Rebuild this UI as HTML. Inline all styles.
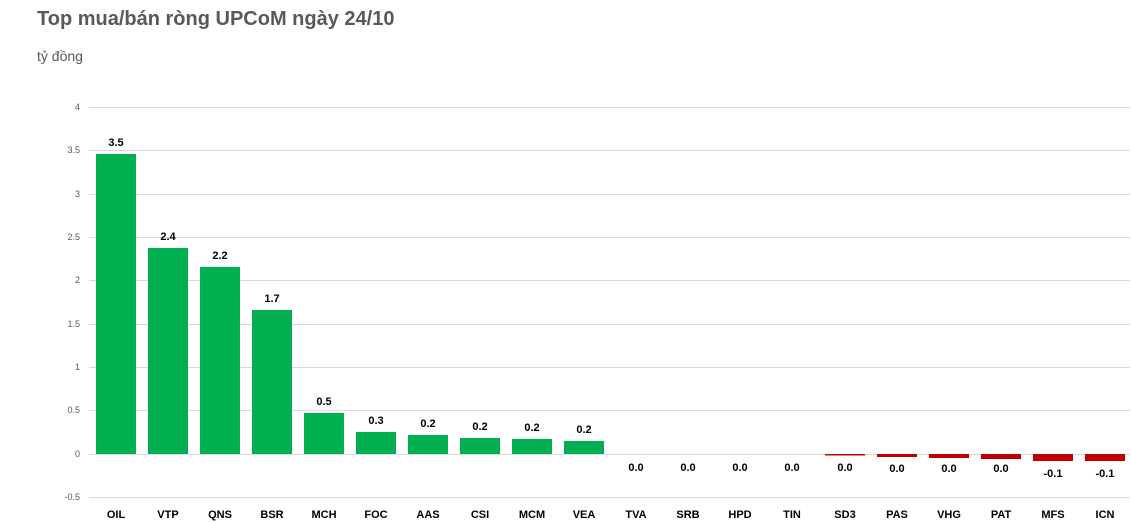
<!DOCTYPE html>
<html><head><meta charset="utf-8"><style>
body{margin:0;background:#fff;}
svg{display:block;font-family:"Liberation Sans",sans-serif;}
</style></head><body>
<svg width="1131" height="523" viewBox="0 0 1131 523">
<text x="37" y="25" font-size="20" font-weight="bold" fill="#595959">Top mua/bán ròng UPCoM ngày 24/10</text>
<text x="37" y="61" font-size="14" fill="#595959">tỷ đồng</text>
<g stroke="#d9d9d9" stroke-width="1">
<line x1="89" x2="1130" y1="107.5" y2="107.5"/><line x1="89" x2="1130" y1="150.5" y2="150.5"/>
<line x1="89" x2="1130" y1="194.5" y2="194.5"/><line x1="89" x2="1130" y1="237.5" y2="237.5"/>
<line x1="89" x2="1130" y1="280.5" y2="280.5"/><line x1="89" x2="1130" y1="324.5" y2="324.5"/>
<line x1="89" x2="1130" y1="367.5" y2="367.5"/><line x1="89" x2="1130" y1="410.5" y2="410.5"/>
<line x1="89" x2="1130" y1="454.5" y2="454.5"/><line x1="89" x2="1130" y1="497.5" y2="497.5"/>
</g>
<g font-size="9" fill="#595959" text-anchor="end">
<text x="80" y="110">4</text><text x="80" y="153">3.5</text><text x="80" y="197">3</text>
<text x="80" y="240">2.5</text><text x="80" y="283">2</text><text x="80" y="327">1.5</text>
<text x="80" y="370">1</text><text x="80" y="413">0.5</text><text x="80" y="457">0</text>
<text x="80" y="500">-0.5</text>
</g>
<g fill="#00b050">
<rect x="96" y="154" width="40" height="300"/><rect x="148" y="248" width="40" height="206"/>
<rect x="200" y="267" width="40" height="187"/><rect x="252" y="310" width="40" height="144"/>
<rect x="304" y="413" width="40" height="41"/><rect x="356" y="432" width="40" height="22"/>
<rect x="408" y="435" width="40" height="19"/><rect x="460" y="438" width="40" height="16"/>
<rect x="512" y="439" width="40" height="15"/><rect x="564" y="441" width="40" height="13"/>
</g>
<g fill="#c00000">
<rect x="825" y="454" width="40" height="1.5"/><rect x="877" y="454" width="40" height="3"/>
<rect x="929" y="454" width="40" height="4"/><rect x="981" y="454" width="40" height="5"/>
<rect x="1033" y="454" width="40" height="7"/><rect x="1085" y="454" width="40" height="7"/>
</g>
<g font-size="11" font-weight="bold" fill="#000" text-anchor="middle">
<text x="116" y="146">3.5</text><text x="168" y="240">2.4</text><text x="220" y="259">2.2</text>
<text x="272" y="302">1.7</text><text x="324" y="405">0.5</text><text x="376" y="424">0.3</text>
<text x="428" y="427">0.2</text><text x="480" y="430">0.2</text><text x="532" y="431">0.2</text>
<text x="584" y="433">0.2</text><text x="636" y="471">0.0</text><text x="688" y="471">0.0</text>
<text x="740" y="471">0.0</text><text x="792" y="471">0.0</text><text x="845" y="471">0.0</text>
<text x="897" y="472">0.0</text><text x="949" y="472">0.0</text><text x="1001" y="472">0.0</text>
<text x="1053" y="477">-0.1</text><text x="1105" y="477">-0.1</text>
</g>
<g font-size="11" font-weight="bold" fill="#000" text-anchor="middle">
<text x="116" y="518">OIL</text><text x="168" y="518">VTP</text><text x="220" y="518">QNS</text>
<text x="272" y="518">BSR</text><text x="324" y="518">MCH</text><text x="376" y="518">FOC</text>
<text x="428" y="518">AAS</text><text x="480" y="518">CSI</text><text x="532" y="518">MCM</text>
<text x="584" y="518">VEA</text><text x="636" y="518">TVA</text><text x="688" y="518">SRB</text>
<text x="740" y="518">HPD</text><text x="792" y="518">TIN</text><text x="845" y="518">SD3</text>
<text x="897" y="518">PAS</text><text x="949" y="518">VHG</text><text x="1001" y="518">PAT</text>
<text x="1053" y="518">MFS</text><text x="1105" y="518">ICN</text>
</g>
</svg>
</body></html>
